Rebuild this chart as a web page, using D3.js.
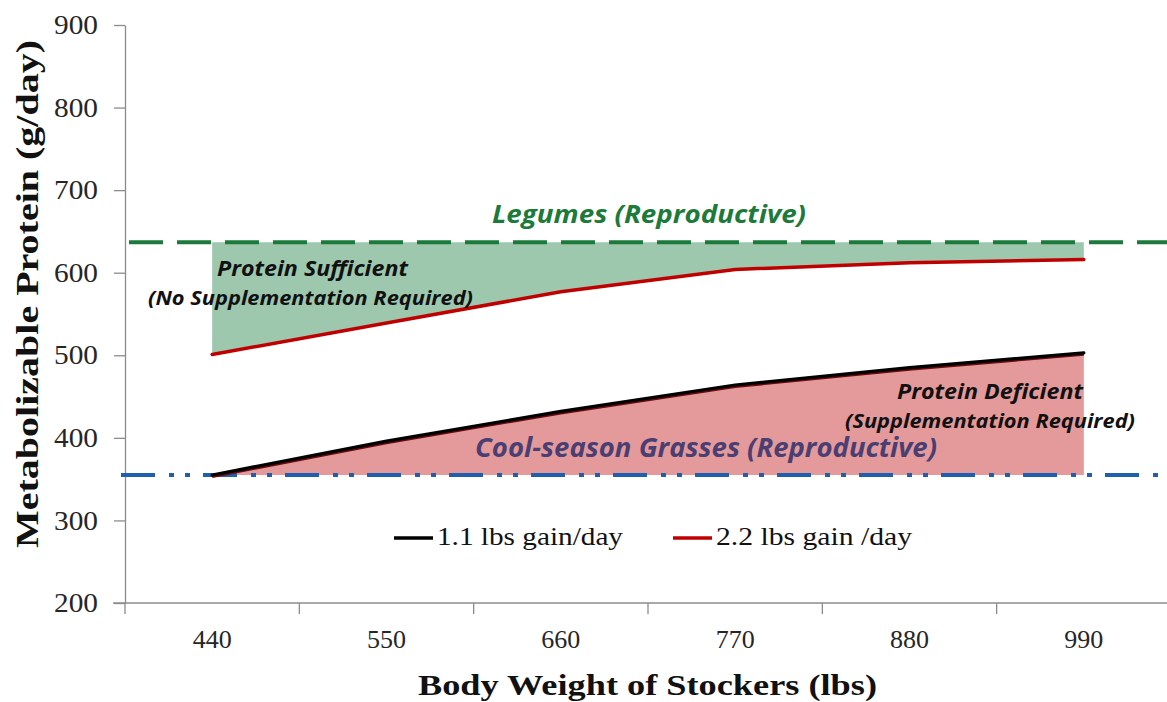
<!DOCTYPE html>
<html><head><meta charset="utf-8">
<script src="https://cdn.jsdelivr.net/npm/d3@7"></script>
<style>body{margin:0;background:#fff;} svg{display:block;}</style>
</head><body>
<svg id="c" width="1167" height="702"></svg>
<script>
const categories = ["440","550","660","770","880","990"];
const gain11 = [355, 396, 432, 464, 485, 503];
const gain22 = [501, 539, 577, 604, 612, 616];
const legumesLevel = 637;
const grassLevel = 355;
const yTicks = [200,300,400,500,600,700,800,900];

const svg = d3.select("#c");
const serif = "'Liberation Serif', 'Times New Roman', serif";
const sans = "'Open Sans', Lato, sans-serif";

const x = d3.scaleBand().domain(categories).range([125, 1171]).padding(0);
const y = d3.scaleLinear().domain([200, 900]).range([603, 25]);
const cx = c => x(c) + x.bandwidth()/2;

// areas
const greenArea = d3.area().x((d,i)=>cx(categories[i])).y0(y(legumesLevel)).y1(d=>y(d));
svg.append("path").datum(gain22).attr("d", greenArea).attr("fill", "#9dc8ae");
const redArea = d3.area().x((d,i)=>cx(categories[i])).y0(y(grassLevel)).y1(d=>y(d));
svg.append("path").datum(gain11).attr("d", redArea).attr("fill", "#e49a9a");

// axes
const yAxis = d3.axisLeft(y).tickValues(yTicks).tickSize(11).tickSizeOuter(0).tickPadding(16);
const gy = svg.append("g").attr("transform","translate(125,0)").call(yAxis);
gy.select(".domain").attr("stroke","#8c8c8c").attr("stroke-width",1.3);
gy.selectAll(".tick line").attr("stroke","#8c8c8c").attr("stroke-width",1.3);
gy.selectAll(".tick text").attr("font-family",serif).attr("font-size",27).attr("fill","#262626")
  .attr("textLength",44).attr("lengthAdjust","spacingAndGlyphs");

// x axis: boundary ticks, centered labels
const gx = svg.append("g");
gx.append("line").attr("x1",113).attr("x2",1171).attr("y1",y(200)).attr("y2",y(200)).attr("stroke","#8c8c8c").attr("stroke-width",1.3);
const bounds = categories.map(c=>x(c)).concat([x(categories[categories.length-1])+x.bandwidth()]);
gx.selectAll("line.t").data(bounds).join("line").attr("class","t")
  .attr("x1",d=>d).attr("x2",d=>d).attr("y1",y(200)).attr("y2",y(200)+11)
  .attr("stroke","#8c8c8c").attr("stroke-width",1.3);
gx.selectAll("text").data(categories).join("text")
  .attr("x",d=>cx(d)).attr("y",648).attr("text-anchor","middle")
  .attr("font-family",serif).attr("font-size",26).attr("fill","#262626").text(d=>d);

// reference lines
svg.append("line").attr("x1",125).attr("x2",1167).attr("y1",y(legumesLevel)).attr("y2",y(legumesLevel))
  .attr("stroke","#1c7a3a").attr("stroke-width",4).attr("stroke-dasharray","34 14").attr("stroke-dashoffset",-4);
svg.append("line").attr("x1",121).attr("x2",1167).attr("y1",y(grassLevel)).attr("y2",y(grassLevel))
  .attr("stroke","#1f5fae").attr("stroke-width",4).attr("stroke-dasharray","34 14 5 11 5 13");

// series lines
const line = d3.line().x((d,i)=>cx(categories[i])).y(d=>y(d));
svg.append("path").datum(gain11).attr("d",line).attr("transform","translate(0,1.5)")
  .attr("fill","none").attr("stroke","#6a0a0a").attr("stroke-width",3);
svg.append("path").datum(gain11).attr("d",line)
  .attr("fill","none").attr("stroke","#000").attr("stroke-width",3.2).attr("stroke-linecap","round");
svg.append("path").datum(gain22).attr("d",line)
  .attr("fill","none").attr("stroke","#c00000").attr("stroke-width",3.5).attr("stroke-linecap","round");

// annotations (x0 = left edge, width = target width)
function ann(t, x0, yy, size, w, color){
  svg.append("text").attr("x",x0).attr("y",yy).attr("font-family",sans).attr("font-weight","bold")
    .attr("font-style","italic").attr("font-size",size).attr("fill",color)
    .attr("textLength",w).attr("lengthAdjust","spacingAndGlyphs").text(t);
}
ann("Legumes (Reproductive)", 492, 223, 25, 314, "#1c7a3a");
ann("Protein Sufficient", 217, 276, 21, 191, "#111");
ann("(No Supplementation Required)", 148, 305, 19, 325, "#111");
ann("Protein Deficient", 897, 399, 21, 186, "#111");
ann("(Supplementation Required)", 845, 428, 19, 290, "#111");
ann("Cool-season Grasses (Reproductive)", 475, 457, 26, 462, "#4a3e73");

// legend
const lg = svg.append("g");
lg.append("line").attr("x1",394).attr("x2",433).attr("y1",538).attr("y2",538).attr("stroke","#000").attr("stroke-width",3.5);
lg.append("text").attr("x",437).attr("y",545).attr("font-family",serif).attr("font-size",25).attr("fill","#111")
  .attr("textLength",186).attr("lengthAdjust","spacingAndGlyphs").text("1.1 lbs gain/day");
lg.append("line").attr("x1",673).attr("x2",712).attr("y1",538).attr("y2",538).attr("stroke","#c00000").attr("stroke-width",3.5);
lg.append("text").attr("x",716).attr("y",545).attr("font-family",serif).attr("font-size",25).attr("fill","#111")
  .attr("textLength",196).attr("lengthAdjust","spacingAndGlyphs").text("2.2 lbs gain /day");

// axis titles
svg.append("text").attr("x",418).attr("y",695).attr("font-family",serif)
  .attr("font-weight","bold").attr("font-size",30).attr("fill","#111")
  .attr("textLength",459).attr("lengthAdjust","spacingAndGlyphs").text("Body Weight of Stockers (lbs)");
svg.append("text").attr("transform","translate(38,548) rotate(-90)").attr("font-family",serif)
  .attr("font-weight","bold").attr("font-size",32).attr("fill","#111")
  .attr("textLength",508).attr("lengthAdjust","spacingAndGlyphs").text("Metabolizable Protein (g/day)");
</script>
</body></html>
